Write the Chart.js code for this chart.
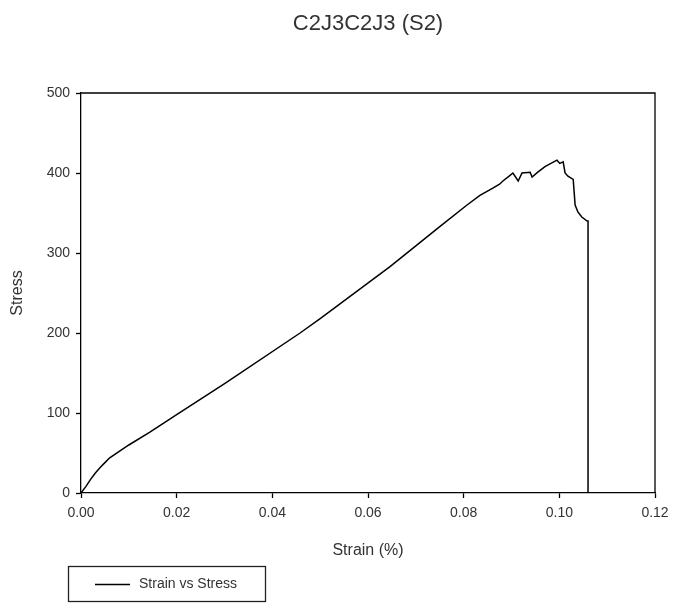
<!DOCTYPE html>
<html>
<head>
<meta charset="utf-8">
<script src="https://cdn.jsdelivr.net/npm/chart.js@4/dist/chart.umd.min.js"></script>
<style>
  html, body { margin: 0; padding: 0; background: #fff; }
  #wrap { width: 673px; height: 608px; position: relative; }
</style>
</head>
<body>
<div id="wrap"><canvas id="c" width="673" height="608"></canvas></div>
<script>
const chartTitle = "C2J3C2J3 (S2)";
const seriesLabel = "Strain vs Stress";
const xTitle = "Strain (%)";
const yTitle = "Stress";
const xTicks = [0, 0.02, 0.04, 0.06, 0.08, 0.10, 0.12];
const yTicks = [0, 100, 200, 300, 400, 500];

const strain = [0, 0.001, 0.002, 0.003, 0.004, 0.005, 0.006, 0.008, 0.010, 0.0144, 0.020, 0.0301, 0.0458, 0.050, 0.0646, 0.070, 0.075, 0.0807, 0.0834, 0.0861, 0.0875, 0.0882, 0.0895, 0.0903, 0.0914, 0.0922, 0.0939, 0.0943, 0.0955, 0.0970, 0.0995, 0.1001, 0.1008, 0.1012, 0.1018, 0.1029, 0.1033, 0.1039, 0.1047, 0.1058, 0.1060, 0.1060];
const stress = [0, 8, 17, 25, 32, 38, 44, 52, 60, 76, 98, 137, 200, 218, 283, 309, 333, 360, 372, 381, 386, 390, 396, 400, 390, 400, 401, 395, 401, 408, 416, 412, 414, 400, 396, 392, 360, 351, 345, 340, 340, 0];

const points = strain.map((s, i) => ({ x: s, y: stress[i] }));

const FONT = "'Liberation Sans', Arial, sans-serif";

const framePlugin = {
  id: 'frame',
  afterDraw(chart) {
    const { ctx, chartArea: a } = chart;
    ctx.save();
    ctx.strokeStyle = '#000';
    ctx.lineWidth = 1.3;
    ctx.beginPath();
    ctx.moveTo(a.left, a.top); ctx.lineTo(a.right, a.top); ctx.lineTo(a.right, a.bottom);
    ctx.stroke();
    ctx.fillStyle = '#333';
    ctx.font = '22px ' + FONT;
    ctx.textAlign = 'center';
    ctx.textBaseline = 'middle';
    ctx.fillText(chartTitle, (a.left + a.right) / 2, 24);
    const bx = 68, by = 566, bw = 197, bh = 35;
    ctx.fillStyle = '#fff';
    ctx.fillRect(bx, by, bw, bh);
    ctx.lineWidth = 1.3;
    ctx.strokeStyle = '#222';
    ctx.strokeRect(bx + 0.5, by + 0.5, bw, bh);
    ctx.beginPath();
    ctx.lineWidth = 1.5;
    ctx.strokeStyle = '#000';
    ctx.moveTo(95, by + bh / 2 + 1); ctx.lineTo(130, by + bh / 2 + 1);
    ctx.stroke();
    ctx.fillStyle = '#333';
    ctx.font = '14px ' + FONT;
    ctx.textAlign = 'left';
    ctx.fillText(chart.data.datasets[0].label, 139, by + bh / 2 + 1);
    ctx.restore();
  }
};

new Chart(document.getElementById('c'), {
  type: 'scatter',
  data: {
    datasets: [{
      label: seriesLabel,
      data: points,
      showLine: true,
      borderColor: '#000',
      borderWidth: 1.5,
      pointRadius: 0,
      tension: 0,
      fill: false
    }]
  },
  options: {
    responsive: false,
    animation: false,
    devicePixelRatio: 1,
    layout: { padding: { left: 0, top: 93, right: 18, bottom: 45 } },
    plugins: {
      legend: { display: false },
      title: { display: false },
      tooltip: { enabled: false }
    },
    scales: {
      x: {
        type: 'linear',
        min: 0, max: 0.12,
        afterBuildTicks: (s) => { s.ticks = xTicks.map(v => ({ value: v })); },
        afterFit: (s) => { s.height = 70; s.paddingRight = 0; s.paddingLeft = 0; },
        ticks: {
          callback: (v) => Number(v).toFixed(2),
          color: '#333',
          font: { family: FONT, size: 14 },
          padding: 7,
          maxRotation: 0
        },
        grid: { drawOnChartArea: false, drawTicks: true, tickLength: 5, color: '#000', tickWidth: 1.3 },
        border: { display: true, color: '#000', width: 1.3 },
        title: {
          display: true, text: xTitle, color: '#333',
          font: { family: FONT, size: 16 },
          padding: { top: 4, bottom: 3 }
        }
      },
      y: {
        type: 'linear',
        min: 0, max: 500,
        afterBuildTicks: (s) => { s.ticks = yTicks.map(v => ({ value: v })); },
        afterFit: (s) => { s.width = 81; s.paddingTop = 0; s.paddingBottom = 0; },
        ticks: {
          color: '#333',
          font: { family: FONT, size: 14 },
          padding: 6
        },
        grid: { drawOnChartArea: false, drawTicks: true, tickLength: 5, color: '#000', tickWidth: 1.3 },
        border: { display: true, color: '#000', width: 1.3 },
        title: {
          display: true, text: yTitle, color: '#333',
          font: { family: FONT, size: 16 },
          padding: { top: 8, bottom: 4 }
        }
      }
    }
  },
  plugins: [framePlugin]
});
</script>
</body>
</html>
